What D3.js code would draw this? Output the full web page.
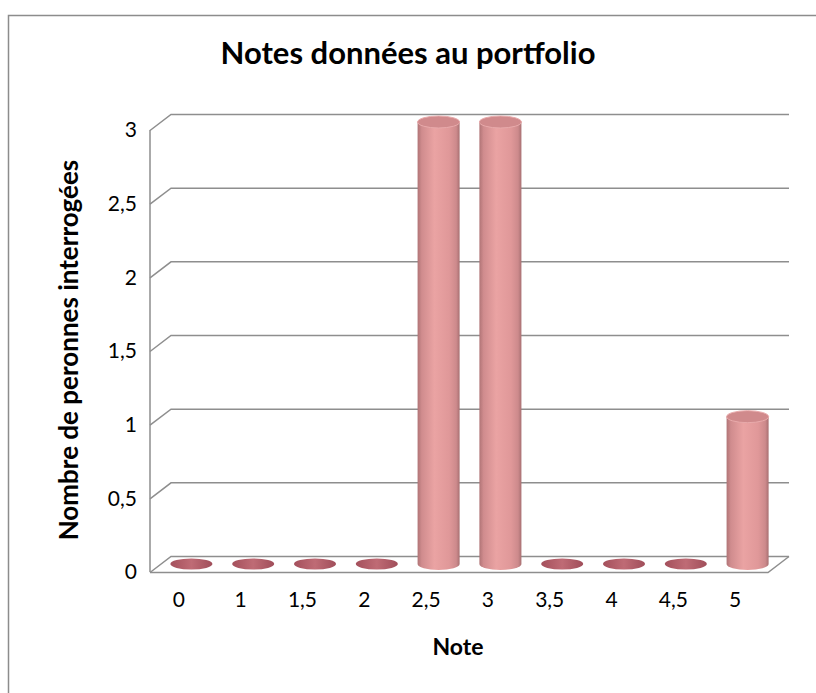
<!DOCTYPE html>
<html>
<head>
<meta charset="utf-8">
<script src="https://cdn.jsdelivr.net/npm/d3@7"></script>
<style>
  body { margin: 0; background: #fff; }
  text { font-family: Lato, "Open Sans", sans-serif; fill: #000; }
</style>
</head>
<body>
<svg id="chart" width="816" height="693"></svg>
<script>
// values
var categories = ["0", "1", "1,5", "2", "2,5", "3", "3,5", "4", "4,5", "5"];
var counts = [0, 0, 0, 0, 3, 3, 0, 0, 0, 1];
var yTicks = [0, 0.5, 1, 1.5, 2, 2.5, 3];

var svg = d3.select("#chart");
var W = 816, H = 693;

// 3d box: front plane + depth offset
var plotLeft = 150, plotRight = 768, plotTop = 114, plotBottom = 556;
var dx = 21, dy = -16;

var x = d3.scaleBand()
    .domain(categories)
    .range([plotLeft, plotRight]);
var y = d3.scaleLinear()
    .domain([0, 3])
    .range([plotBottom, plotTop]);

var fmt = function (d) { return String(d).replace(".", ","); };

// outer border (only top and left visible)
svg.append("path")
    .attr("d", "M8.5," + H + "V15.5H" + W)
    .attr("fill", "none")
    .attr("stroke", "#8c8c8c")
    .attr("stroke-width", 1.5);

var defs = svg.append("defs");
var grad = defs.append("linearGradient").attr("id", "cyl");
[[0, "#b07476"], [0.1, "#d08c8e"], [0.4, "#eaa3a3"], [0.75, "#e09899"], [0.92, "#cd8a8c"], [1, "#a87072"]]
  .forEach(function (s) {
    grad.append("stop").attr("offset", s[0]).attr("stop-color", s[1]);
  });
var grad2 = defs.append("linearGradient").attr("id", "disc");
[[0, "#a4505c"], [0.5, "#bf6b75"], [1, "#a04e5a"]]
  .forEach(function (s) {
    grad2.append("stop").attr("offset", s[0]).attr("stop-color", s[1]);
  });

// gridlines on back wall + left wall
var grid = svg.append("g").attr("stroke", "#8e8e8e").attr("stroke-width", 1.5).attr("fill", "none");
grid.selectAll("path.g")
  .data(yTicks)
  .enter().append("path")
    .attr("class", "g")
    .attr("d", function (d) {
      var yb = y(d) + 0.5;
      return "M" + plotLeft + "," + (yb - dy) + "L" + (plotLeft + dx) + "," + yb + "H" + (plotRight + dx);
    });
// left wall front edge
grid.append("path")
    .attr("d", "M" + plotLeft + "," + (plotTop - dy) + "V" + (plotBottom - dy));
// floor front edges
grid.append("path")
    .attr("d", "M" + plotLeft + "," + (plotBottom - dy + 0.5) + "H" + plotRight + "L" + (plotRight + dx) + "," + (plotBottom + 0.5));

// y tick labels
svg.append("g").selectAll("text")
  .data(yTicks)
  .enter().append("text")
    .attr("x", 137)
    .attr("y", function (d) { return y(d) - dy; })
    .attr("dy", "0.35em")
    .attr("text-anchor", "end")
    .attr("font-size", 21)
    .text(fmt);

// x labels
svg.append("g").selectAll("text")
  .data(categories)
  .enter().append("text")
    .attr("x", function (d) { return x(d) + x.bandwidth() / 2 - 2; })
    .attr("y", 607)
    .attr("text-anchor", "middle")
    .attr("font-size", 21)
    .text(function (d) { return d; });

// cylinders
var cw = x.bandwidth() * 0.68;
var rx = cw / 2, ry = 6;
var bars = svg.append("g").selectAll("g")
  .data(categories.map(function (c, i) { return { cat: c, v: counts[i] }; }))
  .enter().append("g");

bars.each(function (d) {
  var g = d3.select(this);
  var cx = x(d.cat) + x.bandwidth() / 2 + dx / 2;
  var yb = y(0) - dy / 2;
  var yt = y(d.v) - dy / 2;
  if (d.v === 0) {
    g.append("ellipse")
        .attr("cx", cx).attr("cy", yb)
        .attr("rx", rx).attr("ry", ry - 0.5)
        .attr("fill", "url(#disc)");
    return;
  }
  g.append("path")
      .attr("d", "M" + (cx - rx) + "," + yt +
        "V" + yb +
        "A" + rx + "," + ry + " 0 0 0 " + (cx + rx) + "," + yb +
        "V" + yt + "Z")
      .attr("fill", "url(#cyl)");
  g.append("ellipse")
      .attr("cx", cx).attr("cy", yt)
      .attr("rx", rx).attr("ry", ry)
      .attr("fill", "#d08a8c")
      .attr("stroke", "#e8aaab")
      .attr("stroke-width", 1);
});

// titles
svg.append("text")
    .attr("x", 408)
    .attr("y", 64)
    .attr("text-anchor", "middle")
    .attr("font-size", 31)
    .attr("font-weight", "bold")
    .text("Notes données au portfolio");

svg.append("text")
    .attr("x", 458)
    .attr("y", 655)
    .attr("text-anchor", "middle")
    .attr("font-size", 23)
    .attr("font-weight", "bold")
    .text("Note");

svg.append("text")
    .attr("transform", "translate(78,350) rotate(-90)")
    .attr("text-anchor", "middle")
    .attr("font-size", 26)
    .attr("font-weight", "bold")
    .text("Nombre de peronnes interrogées");
</script>
</body>
</html>
